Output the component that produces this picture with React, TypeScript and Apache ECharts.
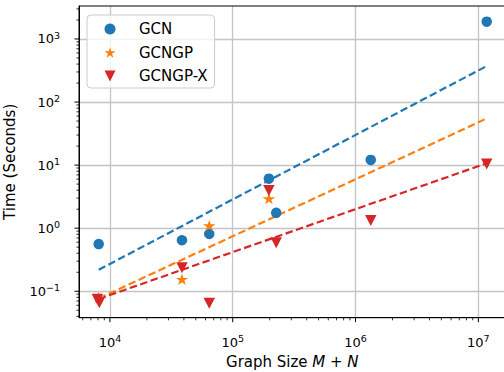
import React, { useEffect, useRef } from 'react';
import * as echarts from 'echarts';

// ---- data ----
const gcnX = [8.1e3, 3.86e4, 6.44e4, 1.97e5, 2.26e5, 1.33e6, 1.17e7];
const gcnY = [0.56, 0.645, 0.81, 6.1, 1.75, 12.1, 1884];
const gcngpX = [8.1e3, 3.86e4, 6.44e4, 1.97e5];
const gcngpY = [0.0805, 0.155, 1.1, 2.95];
const gcngpxX = [7.9e3, 8.2e3, 3.86e4, 6.44e4, 1.97e5, 2.26e5, 1.33e6, 1.17e7];
const gcngpxY = [0.075, 0.066, 0.237, 0.0647, 3.95, 0.59, 1.32, 10.4];
const fitX = [8.1e3, 1.17e7];
const fitGcnY = [0.219, 372];
const fitGcngpY = [0.077, 55];
const fitGcngpxY = [0.0755, 10.7];

const xMajorTicks = [1e4, 1e5, 1e6, 1e7];
const yMajorTicks = [0.1, 1, 10, 100, 1000];
const minorMantissas = [2, 3, 4, 5, 6, 7, 8, 9];
const xDecades = [1e3, 1e4, 1e5, 1e6, 1e7];
const yDecades = [0.01, 0.1, 1, 10, 100, 1000];

const X_MIN = 5600;
const X_MAX = 1.667e7;
const Y_MIN = 0.0381;
const Y_MAX = 3334;

const legendNames = ['GCN', 'GCNGP', 'GCNGP-X'];
const FONT = 'DejaVu Sans';
const BLUE = '#1f77b4';
const ORANGE = '#ff7f0e';
const RED = '#d62728';

const STAR =
  'path://M0,-1 L0.2245,-0.309 L0.951,-0.309 L0.363,0.118 L0.588,0.809 L0,0.382 L-0.588,0.809 L-0.363,0.118 L-0.951,-0.309 L-0.2245,-0.309 Z';
const TRI_DOWN = 'path://M0,0 L2,0 L1,2 Z';

const zip = (xs: number[], ys: number[]) => xs.map((x, i) => [x, ys[i]]);

const powLabel = (value: number) => {
  const l = Math.log10(value);
  const e = Math.round(l);
  if (Math.abs(l - e) > 1e-6) return '';
  const exp = e < 0 ? '\u2212' + -e : String(e);
  return `{b|10}{s|${exp}}`;
};

const tickRich = {
  b: { fontFamily: FONT, fontSize: 13, lineHeight: 17, color: '#000' },
  s: { fontFamily: FONT, fontSize: 9.5, lineHeight: 8, verticalAlign: 'top', color: '#000' },
};

export default function App() {
  const ref = useRef<HTMLDivElement>(null);
  useEffect(() => {
    const el = ref.current!;
    const chart = echarts.init(el, undefined, { renderer: 'svg' });
    const option: any = {
      animation: false,
      grid: {
        left: 79,
        top: 6,
        right: -1.6,
        bottom: 54.3,
        containLabel: false,
        outerBoundsMode: 'none',
        show: true,
        borderColor: '#000',
        borderWidth: 1,
        z: 1,
      },
      legend: {
        data: legendNames,
        orient: 'vertical',
        left: 87,
        top: 15,
        padding: [6, 7, 4, 17.5],
        itemWidth: 11,
        itemHeight: 11,
        itemGap: 7.5,
        borderColor: '#cccccc',
        borderWidth: 1,
        borderRadius: 4,
        backgroundColor: 'rgba(255,255,255,0.8)',
        textStyle: {
          fontFamily: FONT,
          fontSize: 15,
          lineHeight: 16,
          color: '#000',
          padding: [0, 0, 0, 18.5],
        },
      },
      xAxis: {
        type: 'log',
        logBase: 10,
        min: X_MIN,
        max: X_MAX,
        axisLine: { show: true, lineStyle: { color: '#000', width: 1 } },
        axisTick: { show: false },
        minorTick: { show: false },
        splitLine: {
          show: true,
          showMinLine: false,
          showMaxLine: false,
          lineStyle: { color: '#c4c4c4', width: 1.3 },
        },
        axisLabel: {
          margin: 16,
          formatter: powLabel,
          rich: tickRich,
          showMinLabel: true,
          showMaxLabel: true,
        },
        name: '{n|Graph Size }{i|M}{n| + }{i|N}',
        nameLocation: 'middle',
        nameGap: 36,
        nameTextStyle: {
          rich: {
            n: { fontFamily: FONT, fontSize: 15, lineHeight: 16, color: '#000' },
            i: { fontFamily: FONT, fontSize: 15, lineHeight: 16, fontStyle: 'italic', color: '#000' },
          },
        },
      },
      yAxis: {
        type: 'log',
        logBase: 10,
        min: Y_MIN,
        max: Y_MAX,
        axisLine: { show: true, lineStyle: { color: '#000', width: 1 } },
        axisTick: { show: false },
        minorTick: { show: false },
        splitLine: {
          show: true,
          showMinLine: false,
          showMaxLine: false,
          lineStyle: { color: '#c4c4c4', width: 1.3 },
        },
        axisLabel: {
          margin: 19,
          formatter: powLabel,
          rich: tickRich,
        },
        name: 'Time (Seconds)',
        nameLocation: 'middle',
        nameGap: 53,
        nameTextStyle: { fontFamily: FONT, fontSize: 15, lineHeight: 18, color: '#000' },
      },
      series: [
        {
          name: 'GCN fit',
          type: 'line',
          data: zip(fitX, fitGcnY),
          symbol: 'none',
          z: 2,
          lineStyle: { color: BLUE, width: 2.2, type: [7.5, 3.5] },
        },
        {
          name: 'GCNGP fit',
          type: 'line',
          data: zip(fitX, fitGcngpY),
          symbol: 'none',
          z: 2,
          lineStyle: { color: ORANGE, width: 2.2, type: [7.5, 3.5] },
        },
        {
          name: 'GCNGP-X fit',
          type: 'line',
          data: zip(fitX, fitGcngpxY),
          symbol: 'none',
          z: 2,
          lineStyle: { color: RED, width: 2.2, type: [7.5, 3.5] },
        },
        {
          name: 'GCN',
          type: 'scatter',
          data: zip(gcnX, gcnY),
          symbol: 'circle',
          symbolSize: 10.5,
          z: 3,
          itemStyle: { color: BLUE, opacity: 1 },
        },
        {
          name: 'GCNGP',
          type: 'scatter',
          data: zip(gcngpX, gcngpY),
          symbol: STAR,
          symbolKeepAspect: true,
          symbolSize: [12.5, 12],
          z: 4,
          itemStyle: { color: ORANGE, opacity: 1 },
        },
        {
          name: 'GCNGP-X',
          type: 'scatter',
          data: zip(gcngpxX, gcngpxY),
          symbol: TRI_DOWN,
          symbolKeepAspect: true,
          symbolSize: [11.5, 11],
          z: 5,
          itemStyle: { color: RED, opacity: 1 },
        },
      ],
    };
    chart.setOption(option);

    // tick marks (major + minor), positioned through the axis scales
    const elements: any[] = [];
    const tick = (x1: number, y1: number, x2: number, y2: number, w: number) =>
      elements.push({
        type: 'line',
        silent: true,
        z: 10,
        shape: { x1, y1, x2, y2 },
        style: { stroke: '#000', lineWidth: w },
      });
    const xMinor: number[] = [];
    xDecades.forEach((d) => minorMantissas.forEach((m) => xMinor.push(d * m)));
    const yMinor: number[] = [];
    yDecades.forEach((d) => minorMantissas.forEach((m) => yMinor.push(d * m)));

    xMajorTicks.forEach((v) => {
      const p = chart.convertToPixel({ gridIndex: 0 }, [v, Y_MIN]);
      tick(p[0], p[1], p[0], p[1] + 4.5, 1);
    });
    xMinor
      .filter((v) => v > X_MIN && v < X_MAX)
      .forEach((v) => {
        const p = chart.convertToPixel({ gridIndex: 0 }, [v, Y_MIN]);
        tick(p[0], p[1], p[0], p[1] + 2.6, 0.8);
      });
    yMajorTicks.forEach((v) => {
      const p = chart.convertToPixel({ gridIndex: 0 }, [X_MIN, v]);
      tick(p[0], p[1], p[0] - 4.5, p[1], 1);
    });
    yMinor
      .filter((v) => v > Y_MIN && v < Y_MAX)
      .forEach((v) => {
        const p = chart.convertToPixel({ gridIndex: 0 }, [X_MIN, v]);
        tick(p[0], p[1], p[0] - 2.6, p[1], 0.8);
      });
    chart.setOption({ graphic: { elements } });

    return () => chart.dispose();
  }, []);
  return (
    <div
      ref={ref}
      style={{ position: 'absolute', left: 0, top: 0, width: 504, height: 372 }}
    />
  );
}
